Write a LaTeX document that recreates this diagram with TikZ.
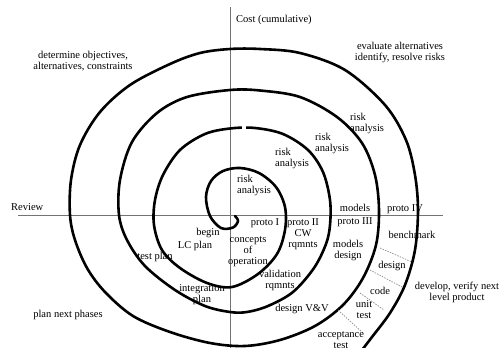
\documentclass[tikz,border=0pt]{standalone}
\usepackage{fontspec}
\setmainfont{Liberation Serif}
\begin{document}
\begin{tikzpicture}[x=1pt, y=-1pt,
    lbl/.style={font=\fontsize{10.5}{11}\selectfont, inner sep=0pt, align=center},
    axisline/.style={draw=black!55, line width=0.8pt},
    spiralline/.style={line width=2.6pt, line cap=round, line join=round},
    phaseline/.style={draw=black!45, line width=0.7pt, dash pattern=on 1.5pt off 1.2pt}]
    \useasboundingbox (0,0) rectangle (499,348);

    \draw[axisline] (230,7) -- (230,348);
    \draw[axisline] (18,215) -- (443,215);

    \draw[spiralline] plot[smooth, tension=0.55] coordinates {
        (235,216) (238,221) (233,227.5) (221,228) (210,216) (206,197) (211,181)
        (223,171) (240,168) (259,173) (276,187) (285,207) (285,230) (277,254)
        (258,274) (232,287) (207,283) (180,268) (162,250) (154,225) (155,200)
        (163,175) (180,150) (205,134) (230,128.5) (255,128) (283,134) (308,150)
        (323,172) (330,200) (330,225) (326,244) (314,268) (293,292) (268,306)
        (247,312) (230,312) (205,306) (175,290) (145,266) (127,240) (119,215)
        (120,180) (132,142) (157,113) (187,97) (230,90) (260,90.5) (300,97)
        (337,117) (362,143) (375,175) (379,210) (376,245) (363,278) (343,305)
        (315,326) (280,340) (245,346) (210,343) (170,332) (133,316) (105,292)
        (87,268) (75,240) (70,215) (71,180) (80,145) (100,112) (130,85) (170,64)
        (200,53) (230,49) (260,49) (300,53) (345,70) (385,105) (406,140) (415,175)
        (418,210) (415,250) (405,285) (390,313) (372,337) (362,350)};
    \fill[white] (242,123) rectangle (246,134);

    \draw[phaseline] (380,248) -- (412,262);
    \draw[phaseline] (370,270) -- (402,287);
    \draw[phaseline] (360,293) -- (384,310);
    \draw[phaseline] (338,310) -- (363,333);

    \node[lbl, anchor=west] (cost) at (236,20) {Cost (cumulative)};
    \node[lbl, anchor=west] (review) at (11,207) {Review};
    \node[lbl] (determine) at (83,61) {determine objectives,\\alternatives, constraints};
    \node[lbl] (evaluate) at (400,52) {evaluate alternatives\\identify, resolve risks};
    \node[lbl] (plannext) at (68,315) {plan next phases};
    \node[lbl] (develop) at (457,292) {develop, verify next\\level product};

    \node[lbl, align=left, anchor=west] (riskA) at (237,185) {risk\\analysis};
    \node[lbl, align=left, anchor=west] (riskB) at (275,158) {risk\\analysis};
    \node[lbl, align=left, anchor=west] (riskC) at (315,143) {risk\\analysis};
    \node[lbl, align=left, anchor=west] (riskD) at (350,123) {risk\\analysis};

    \node[lbl] (protoI) at (265,223) {proto I};
    \node[lbl] (protoII) at (303,223) {proto II};
    \node[lbl] (cw) at (303,240) {CW\\rqmnts};
    \node[lbl] (modelsA) at (355,208) {models};
    \node[lbl] (protoIII) at (355,222) {proto III};
    \node[lbl] (protoIV) at (405,209) {proto IV};
    \node[lbl] (modelsB) at (348,250) {models\\design};
    \node[lbl] (bench) at (412,235) {benchmark};
    \node[lbl] (designA) at (392,266) {design};
    \node[lbl] (code) at (380,291) {code};
    \node[lbl] (unit) at (364,310) {unit\\test};
    \node[lbl] (accept) at (341,340) {acceptance\\test};

    \node[lbl] (begin) at (208,233) {begin};
    \node[lbl] (lcplan) at (195,246) {LC plan};
    \node[lbl] (concepts) at (248,252) {concepts\\of\\operation};
    \node[lbl] (testplan) at (155,257) {test plan};
    \node[lbl] (integ) at (202,295) {integration\\plan};
    \node[lbl] (valid) at (280,280) {validation\\rqmnts};
    \node[lbl] (designvv) at (302,309) {design V\&V};
\end{tikzpicture}
\end{document}
